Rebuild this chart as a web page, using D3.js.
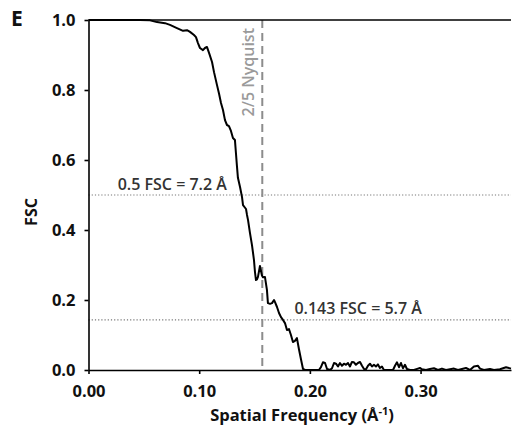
<!DOCTYPE html>
<html>
<head>
<meta charset="utf-8">
<script src="https://cdn.jsdelivr.net/npm/d3@7"></script>
<style>
  html, body { margin: 0; padding: 0; background: #fff; }
  svg { display: block; font-family: "Open Sans", "DejaVu Sans", sans-serif; }
</style>
</head>
<body>
<svg id="chart" width="513" height="428"></svg>
<script>
// Fourier shell correlation curve: spatial frequency (1/Å) vs FSC
const frequency = [
  0.000, 0.0285, 0.0465, 0.0556, 0.0619, 0.0691, 0.0736, 0.0799, 0.0854, 0.0890,
  0.0917, 0.0953, 0.0971, 0.0989, 0.1007, 0.1034, 0.1052, 0.1070, 0.1089, 0.1116,
  0.1134, 0.1161, 0.1179, 0.1197, 0.1215, 0.1233, 0.1251, 0.1269, 0.1287, 0.1305,
  0.1323, 0.1332, 0.1341, 0.1350, 0.1369, 0.1387, 0.1396, 0.1423, 0.1432, 0.1441,
  0.1459, 0.1477, 0.1495, 0.1504, 0.1513, 0.1522, 0.1531, 0.1549, 0.1567, 0.1576,
  0.1594, 0.1612, 0.1621, 0.1640, 0.1658, 0.1676, 0.1685, 0.1703, 0.1721, 0.1739,
  0.1757, 0.1775, 0.1793, 0.1811, 0.1829, 0.1847, 0.1865, 0.1883, 0.1901, 0.1920,
  0.1938, 0.1956, 0.1965, 0.2001, 0.2046, 0.2082, 0.2100, 0.2118, 0.2137, 0.2155,
  0.2182, 0.2200, 0.2218, 0.2236, 0.2254, 0.2272, 0.2290, 0.2308, 0.2326, 0.2344,
  0.2362, 0.2380, 0.2398, 0.2416, 0.2434, 0.2453, 0.2471, 0.2489, 0.2507, 0.2525,
  0.2543, 0.2561, 0.2579, 0.2597, 0.2615, 0.2633, 0.2651, 0.2669, 0.2706, 0.2724,
  0.2751, 0.2769, 0.2787, 0.2805, 0.2823, 0.2841, 0.2859, 0.2877, 0.2904, 0.2940,
  0.2976, 0.2994, 0.3013, 0.3049, 0.3085, 0.3121, 0.3157, 0.3193, 0.3229, 0.3266,
  0.3302, 0.3338, 0.3374, 0.3410, 0.3446, 0.3482, 0.3519, 0.3537, 0.3573, 0.3627,
  0.3663, 0.3717, 0.3772, 0.3817
];
const fsc = [
  1.000, 1.000, 1.000, 0.999, 0.994, 0.991, 0.986, 0.977, 0.969, 0.971,
  0.966, 0.957, 0.951, 0.934, 0.920, 0.914, 0.920, 0.923, 0.906, 0.880,
  0.851, 0.814, 0.790, 0.763, 0.743, 0.714, 0.700, 0.697, 0.683, 0.663,
  0.657, 0.620, 0.583, 0.549, 0.523, 0.494, 0.471, 0.460, 0.443, 0.429,
  0.391, 0.357, 0.314, 0.280, 0.257, 0.259, 0.266, 0.297, 0.270, 0.265,
  0.266, 0.229, 0.191, 0.189, 0.191, 0.200, 0.194, 0.180, 0.163, 0.151,
  0.143, 0.134, 0.114, 0.117, 0.100, 0.080, 0.083, 0.091, 0.060, 0.030,
  0.003, 0.000, 0.000, 0.000, 0.000, 0.000, 0.008, 0.022, 0.020, 0.003,
  0.000, 0.005, 0.020, 0.018, 0.010, 0.020, 0.012, 0.018, 0.015, 0.020,
  0.010, 0.023, 0.022, 0.015, 0.020, 0.023, 0.012, 0.003, 0.002, 0.012,
  0.018, 0.010, 0.015, 0.010, 0.016, 0.006, 0.010, 0.000, 0.000, 0.000,
  0.000, 0.012, 0.022, 0.008, 0.020, 0.005, 0.015, 0.003, 0.000, 0.000,
  0.004, 0.006, 0.002, 0.000, 0.003, 0.005, 0.000, 0.004, 0.000, 0.002,
  0.004, 0.000, 0.003, 0.006, 0.000, 0.010, 0.012, 0.004, 0.000, 0.003,
  0.000, 0.002, 0.008, 0.004
];

const xTicks = [0.00, 0.10, 0.20, 0.30];
const yTicks = [0.0, 0.2, 0.4, 0.6, 0.8, 1.0];

// Reference lines
const nyquistFreq = 0.157;
const thresholds = [0.5, 0.143];
const thresholdLabels = ["0.5 FSC = 7.2 Å", "0.143 FSC = 5.7 Å"];
// label anchor frequency and which side of the text sits there
const thresholdLabelFreq = [0.125, 0.186];
const thresholdLabelAnchor = ["end", "start"];

const W = 513, H = 428;
const margin = { top: 20, right: 2, bottom: 58, left: 88.5 };

const svg = d3.select("#chart");

const x = d3.scaleLinear().domain([0, 0.3817]).range([margin.left, W - margin.right]);
const y = d3.scaleLinear().domain([0, 1]).range([H - margin.bottom, margin.top]);

// Panel letter
svg.append("text")
  .attr("x", 11).attr("y", 26)
  .attr("font-size", 21).attr("font-weight", 700)
  .attr("fill", "#111")
  .text("E");

// Threshold dotted lines
svg.append("g").selectAll("line")
  .data(thresholds)
  .join("line")
  .attr("x1", x(0)).attr("x2", x.range()[1])
  .attr("y1", d => y(d)).attr("y2", d => y(d))
  .attr("stroke", "#777").attr("stroke-width", 1.2)
  .attr("stroke-dasharray", "1.2,2");

// Nyquist dashed line
svg.append("line")
  .attr("x1", x(nyquistFreq)).attr("x2", x(nyquistFreq))
  .attr("y1", y(1)).attr("y2", y(0))
  .attr("stroke", "#8c8c8c").attr("stroke-width", 2)
  .attr("stroke-dasharray", "8,5");

svg.append("text")
  .attr("transform", `translate(${x(nyquistFreq) - 8.5},28) rotate(-90)`)
  .attr("text-anchor", "end")
  .attr("font-size", 16).attr("font-weight", 600)
  .attr("fill", "#9a9a9a")
  .text("2/5 Nyquist");

// Threshold labels
svg.append("g").selectAll("text")
  .data(thresholds)
  .join("text")
  .attr("x", (d, i) => x(thresholdLabelFreq[i]))
  .attr("y", d => y(d) - 5.5)
  .attr("text-anchor", (d, i) => thresholdLabelAnchor[i])
  .attr("font-size", 16).attr("font-weight", 600)
  .attr("fill", "#333")
  .text((d, i) => thresholdLabels[i]);

// FSC curve
const line = d3.line()
  .x((d, i) => x(frequency[i]))
  .y(d => y(d));

svg.append("path")
  .datum(fsc)
  .attr("d", line)
  .attr("fill", "none")
  .attr("stroke", "#000")
  .attr("stroke-width", 2)
  .attr("stroke-linejoin", "round");

// Top frame line
svg.append("line")
  .attr("x1", x(0)).attr("x2", x.range()[1])
  .attr("y1", y(1)).attr("y2", y(1))
  .attr("stroke", "#000").attr("stroke-width", 1.6);

// Axes
const xAxis = d3.axisBottom(x)
  .tickValues(xTicks)
  .tickFormat(d3.format(".2f"))
  .tickSizeInner(4).tickSizeOuter(0).tickPadding(11);

const yAxis = d3.axisLeft(y)
  .tickValues(yTicks)
  .tickFormat(d3.format(".1f"))
  .tickSizeInner(4).tickSizeOuter(0).tickPadding(9);

const gx = svg.append("g")
  .attr("transform", `translate(0,${y(0)})`)
  .call(xAxis);

const gy = svg.append("g")
  .attr("transform", `translate(${x(0)},0)`)
  .call(yAxis);

[gx, gy].forEach(g => {
  g.select(".domain").attr("stroke", "#000").attr("stroke-width", 1.6);
  g.selectAll(".tick line").attr("stroke", "#000").attr("stroke-width", 1.6);
  g.selectAll(".tick text")
    .attr("font-family", "\"Open Sans\", sans-serif")
    .attr("font-size", 16.5).attr("font-weight", 700)
    .attr("fill", "#111");
});

// Axis titles
const xTitle = svg.append("text")
  .attr("x", 302).attr("y", 421)
  .attr("text-anchor", "middle")
  .attr("font-size", 16.5).attr("font-weight", 700)
  .attr("fill", "#111");
xTitle.append("tspan").text("Spatial Frequency (Å");
xTitle.append("tspan").attr("font-size", 11).attr("dy", -6.5).text("-1");
xTitle.append("tspan").attr("dy", 6.5).text(")");

svg.append("text")
  .attr("transform", "translate(37,212) rotate(-90)")
  .attr("text-anchor", "middle")
  .attr("font-size", 16).attr("font-weight", 700)
  .attr("fill", "#111")
  .text("FSC");
</script>
</body>
</html>
